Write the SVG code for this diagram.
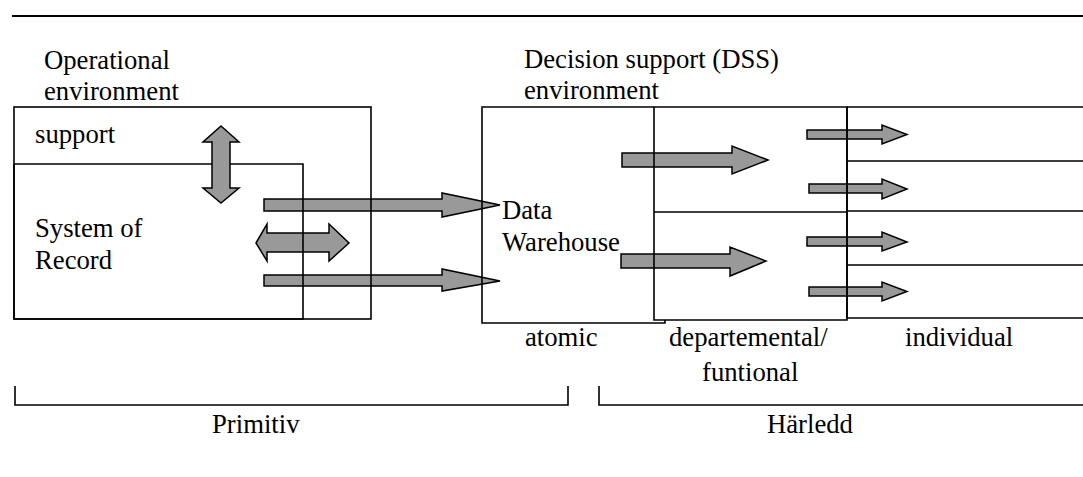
<svg xmlns="http://www.w3.org/2000/svg" width="1083" height="477" viewBox="0 0 1083 477">
<style>
.t{font-family:"Liberation Serif","Times New Roman",serif;font-size:26.7px;fill:#000}
.ln{fill:none;stroke:#000;stroke-width:1.6}
.bg{fill:#fff;stroke:none}
.ar{fill:#999;stroke:#000;stroke-width:1.5;stroke-linejoin:miter}
</style>
<rect x="0" y="0" width="1083" height="477" fill="#fff"/>
<path d="M12,16 H1083" stroke="#000" stroke-width="2" fill="none"/>
<g id="backgrounds">
<rect class="bg" x="14" y="107" width="357" height="212"/>
<rect class="bg" x="482" y="107" width="183" height="216"/>
<rect class="bg" x="654" y="107" width="193" height="213"/>
<rect class="bg" x="847" y="107" width="240" height="211"/>
</g>
<g id="connectors">
<polygon class="ar" points="221,126 239,142 230,142 230,188 239,188 221,203 203,188 212,188 212,142 203,142"/>
<polygon class="ar" points="256,243 267,224 267,233 329,233 329,224 349,243 329,261 329,252 267,252 267,261"/>
<polygon class="ar" points="264,199 442,199 442,193 500,205 442,217 442,211 264,211"/>
<polygon class="ar" points="264,275 442,275 442,269 500,281 442,291 442,286 264,286"/>
<polygon class="ar" points="622,153 732,153 732,146 768,160 732,174 732,167 622,167"/>
<polygon class="ar" points="621,254 730,254 730,247 766,261 730,276 730,268 621,268"/>
<polygon class="ar" points="807,130 882,130 882,125 907,134.5 882,144 882,139 807,139"/>
<polygon class="ar" points="809,184 882,184 882,179 907,189 882,199 882,193 809,193"/>
<polygon class="ar" points="807,237 882,237 882,232 907,242 882,251 882,246 807,246"/>
<polygon class="ar" points="809,287 882,287 882,282 907,291.5 882,301 882,296 809,296"/>
</g>
<g id="operational">
<rect class="ln" x="14" y="107" width="357" height="212"/>
<text class="t" x="44" y="69">Operational</text>
<text class="t" x="44" y="100">environment</text>
</g>
<g id="support">
<text class="t" x="35" y="143">support</text>
</g>
<g id="system-of-record">
<path class="ln" d="M14,164 H212 M230,164 H303 V319 H14 V164"/>
<text class="t" x="35" y="237">System of</text>
<text class="t" x="35" y="269">Record</text>
</g>
<g id="dss-label">
<text class="t" x="524" y="68">Decision support (DSS)</text>
<text class="t" x="524" y="99">environment</text>
</g>
<g id="data-warehouse">
<path class="ln" d="M654,107 H482 V323 H665 V320"/>
<text class="t" x="502" y="219">Data</text>
<text class="t" x="502" y="251">Warehouse</text>
<text class="t" x="525" y="346">atomic</text>
</g>
<g id="departmental">
<path class="ln" d="M654,107 H847 V320 H654 Z M654,212 H847"/>
<text class="t" x="669" y="346">departemental/</text>
<text class="t" x="702" y="381">funtional</text>
</g>
<g id="individual">
<path class="ln" d="M847,107 H1083 M847,318 H1083 M847,161 H1083 M847,211 H1083 M847,265 H1083 M847,107 V318"/>
<text class="t" x="905" y="346">individual</text>
</g>
<g id="primitiv">
<path class="ln" d="M15,386 V405 H568 V386"/>
<text class="t" x="212" y="433">Primitiv</text>
</g>
<g id="harledd">
<path class="ln" d="M599,386 V405 H1083"/>
<text class="t" x="767" y="433">Härledd</text>
</g>
</svg>
